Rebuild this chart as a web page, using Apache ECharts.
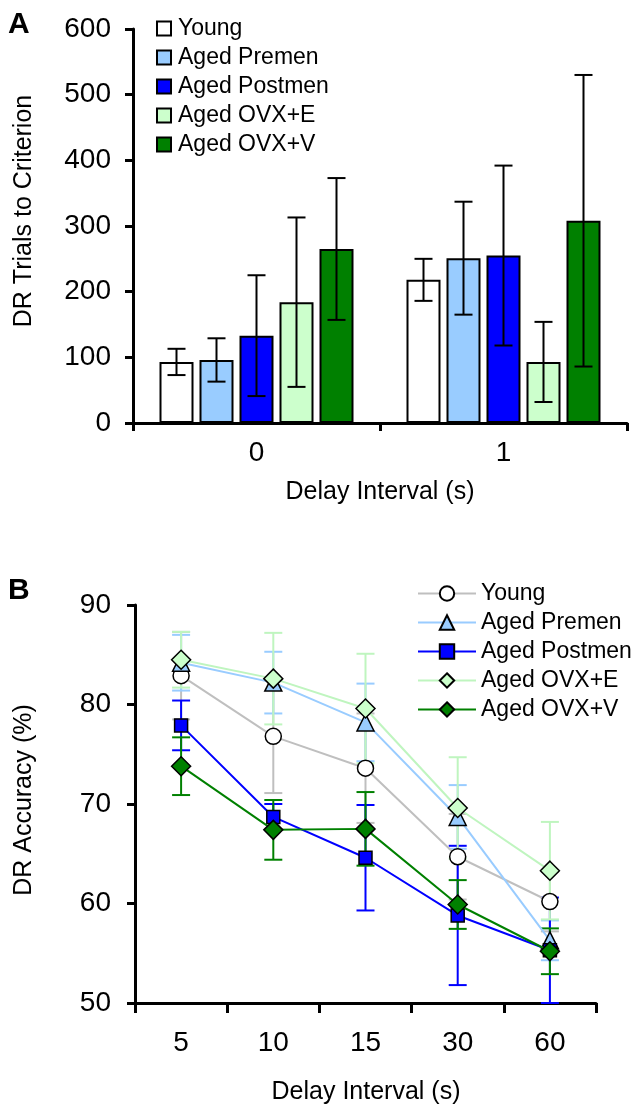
<!DOCTYPE html>
<html>
<head>
<meta charset="utf-8">
<script src="https://cdn.jsdelivr.net/npm/echarts@6/dist/echarts.min.js"></script>
<style>
  html, body { margin: 0; padding: 0; background: #fff; }
  #chart { width: 640px; height: 1105px; }
</style>
</head>
<body>
<div id="chart"></div>
<script>
// panel A: trials to criterion (mean, error)
const barCategories = ['0', '1']
const groupNames = ['Young', 'Aged Premen', 'Aged Postmen', 'Aged OVX+E', 'Aged OVX+V']
const trialsYoung = [93, 218]
const trialsYoungErr = [20, 32]
const trialsPremen = [96, 251]
const trialsPremenErr = [33, 86]
const trialsPostmen = [133, 255]
const trialsPostmenErr = [92, 137]
const trialsOvxE = [184, 93]
const trialsOvxEErr = [129, 61]
const trialsOvxV = [265, 308]
const trialsOvxVErr = [108, 222]

// panel B: accuracy by delay (mean, error)
const delays = ['5', '10', '15', '30', '60']
const accYoung = [82.9, 76.8, 73.6, 64.7, 60.2]
const accYoungErr = [4.4, 5.7, 5.5, 4.3, 3.0]
const accPremen = [84.2, 82.2, 78.2, 68.7, 56.3]
const accPremenErr = [2.8, 3.1, 3.9, 3.2, 2.0]
const accPostmen = [77.9, 68.7, 64.6, 58.8, 55.3]
const accPostmenErr = [2.5, 1.3, 5.3, 7.0, 5.3]
const accOvxE = [84.5, 82.6, 79.6, 69.6, 63.3]
const accOvxEErr = [2.8, 4.6, 5.5, 5.1, 4.9]
const accOvxV = [73.8, 67.4, 67.5, 59.9, 55.2]
const accOvxVErr = [2.9, 3.0, 3.7, 2.45, 2.3]

const FONT = 'Liberation Sans, Arial, sans-serif'
const BAR_W = 34
const BAR_GAP = 6
const colors = ['#ffffff', '#99ccff', '#0000ff', '#ccffcc', '#008000']
const lineColors = ['#bfbfbf', '#99ccff', '#0000ff', '#bff5bf', '#008000']
const symbols = ['circle', 'triangle', 'rect', 'diamond', 'diamond']
const symbolSizes = [16, 17, 13, 19, 19]

const trials = [trialsYoung, trialsPremen, trialsPostmen, trialsOvxE, trialsOvxV]
const trialsErr = [trialsYoungErr, trialsPremenErr, trialsPostmenErr, trialsOvxEErr, trialsOvxVErr]
const acc = [accYoung, accPremen, accPostmen, accOvxE, accOvxV]
const accErr = [accYoungErr, accPremenErr, accPostmenErr, accOvxEErr, accOvxVErr]

function errorBars(offset, capHalf, color, width) {
  return function (params, api) {
    const hi = api.coord([api.value(0), api.value(2)])
    const lo = api.coord([api.value(0), api.value(1)])
    const x = hi[0] + offset
    const style = { stroke: color, lineWidth: width }
    return {
      type: 'group',
      children: [
        { type: 'line', shape: { x1: x, y1: hi[1], x2: x, y2: lo[1] }, style },
        { type: 'line', shape: { x1: x - capHalf, y1: hi[1], x2: x + capHalf, y2: hi[1] }, style },
        { type: 'line', shape: { x1: x - capHalf, y1: lo[1], x2: x + capHalf, y2: lo[1] }, style }
      ]
    }
  }
}

function ranges(vals, errs) {
  return vals.map((v, j) => [j, v - errs[j], v + errs[j]])
}

const axisLine = { show: true, lineStyle: { color: '#000', width: 3 } }
const axisTick = { show: true, inside: false, length: 8, lineStyle: { color: '#000', width: 3 } }
const labelStyle = { color: '#000', fontSize: 28, fontFamily: FONT }

const series = []
groupNames.forEach((name, i) => {
  series.push({
    name: name,
    type: 'bar',
    xAxisIndex: 0,
    yAxisIndex: 0,
    barWidth: BAR_W,
    barGap: (BAR_GAP / BAR_W * 100) + '%',
    itemStyle: { color: colors[i], borderColor: '#000', borderWidth: 2 },
    data: trials[i],
    z: 2
  })
})
groupNames.forEach((name, i) => {
  series.push({
    name: name + ' err',
    type: 'custom',
    xAxisIndex: 0,
    yAxisIndex: 0,
    renderItem: errorBars((i - 2) * (BAR_W + BAR_GAP), 9, '#000', 2),
    data: ranges(trials[i], trialsErr[i]),
    z: 5
  })
})
groupNames.forEach((name, i) => {
  series.push({
    name: name + ' bars',
    type: 'custom',
    xAxisIndex: 1,
    yAxisIndex: 1,
    renderItem: errorBars(0, 9, lineColors[i], 2),
    data: ranges(acc[i], accErr[i]),
    z: 3
  })
})
groupNames.forEach((name, i) => {
  series.push({
    name: name + ' ',
    type: 'line',
    xAxisIndex: 1,
    yAxisIndex: 1,
    symbol: symbols[i],
    symbolSize: symbolSizes[i],
    showAllSymbol: true,
    lineStyle: { color: lineColors[i], width: 2 },
    itemStyle: { color: colors[i], borderColor: '#000', borderWidth: 1.5 },
    data: acc[i],
    z: 4 + i
  })
})

const chart = echarts.init(document.getElementById('chart'))
chart.setOption({
  animation: false,
  backgroundColor: '#fff',
  textStyle: { fontFamily: FONT },
  grid: [
    { left: 133, top: 29, width: 494, height: 394, outerBoundsMode: 'none' },
    { left: 135, top: 605, width: 461, height: 398, outerBoundsMode: 'none' }
  ],
  xAxis: [
    {
      type: 'category', gridIndex: 0, data: barCategories,
      axisLine: axisLine, axisTick: axisTick,
      axisLabel: Object.assign({ margin: 16 }, labelStyle),
      splitLine: { show: false }
    },
    {
      type: 'category', gridIndex: 1, data: delays,
      axisLine: axisLine, axisTick: Object.assign({}, axisTick, { length: 10 }),
      axisLabel: Object.assign({ margin: 26 }, labelStyle),
      splitLine: { show: false }
    }
  ],
  yAxis: [
    {
      type: 'value', gridIndex: 0, min: 0, max: 600, interval: 100,
      axisLine: axisLine, axisTick: axisTick,
      axisLabel: Object.assign({ margin: 22 }, labelStyle),
      splitLine: { show: false }
    },
    {
      type: 'value', gridIndex: 1, min: 50, max: 90, interval: 10,
      axisLine: axisLine, axisTick: axisTick,
      axisLabel: Object.assign({ margin: 24 }, labelStyle),
      splitLine: { show: false }
    }
  ],
  legend: [
    {
      orient: 'vertical', left: 151, top: 12,
      data: groupNames,
      icon: 'rect', itemWidth: 14, itemHeight: 14, itemGap: 6,
      textStyle: { color: '#000', fontSize: 23, fontFamily: FONT, lineHeight: 23, padding: [0, 0, 0, 2] },
      selectedMode: false
    },
    {
      orient: 'vertical', left: 412, top: 577,
      data: groupNames.map(n => n + ' '),
      itemWidth: 58, itemHeight: 18, itemGap: 6,
      formatter: n => n.trim(),
      textStyle: { color: '#000', fontSize: 23, fontFamily: FONT, lineHeight: 23 },
      selectedMode: false
    }
  ],
  graphic: [
    { type: 'text', left: 8, top: 10, style: { text: 'A', font: 'bold 30px ' + FONT, fill: '#000' } },
    { type: 'text', left: 8, top: 576, style: { text: 'B', font: 'bold 30px ' + FONT, fill: '#000' } },
    { type: 'text', x: 24, y: 211, rotation: Math.PI / 2, style: { text: 'DR Trials to Criterion', font: '25px ' + FONT, fill: '#000', align: 'center', verticalAlign: 'middle' } },
    { type: 'text', x: 24, y: 800, rotation: Math.PI / 2, style: { text: 'DR Accuracy (%)', font: '25px ' + FONT, fill: '#000', align: 'center', verticalAlign: 'middle' } },
    { type: 'text', x: 380, y: 492, style: { text: 'Delay Interval (s)', font: '25px ' + FONT, fill: '#000', align: 'center', verticalAlign: 'middle' } },
    { type: 'text', x: 366, y: 1092, style: { text: 'Delay Interval (s)', font: '25px ' + FONT, fill: '#000', align: 'center', verticalAlign: 'middle' } }
  ],
  series: series
})
</script>
</body>
</html>
